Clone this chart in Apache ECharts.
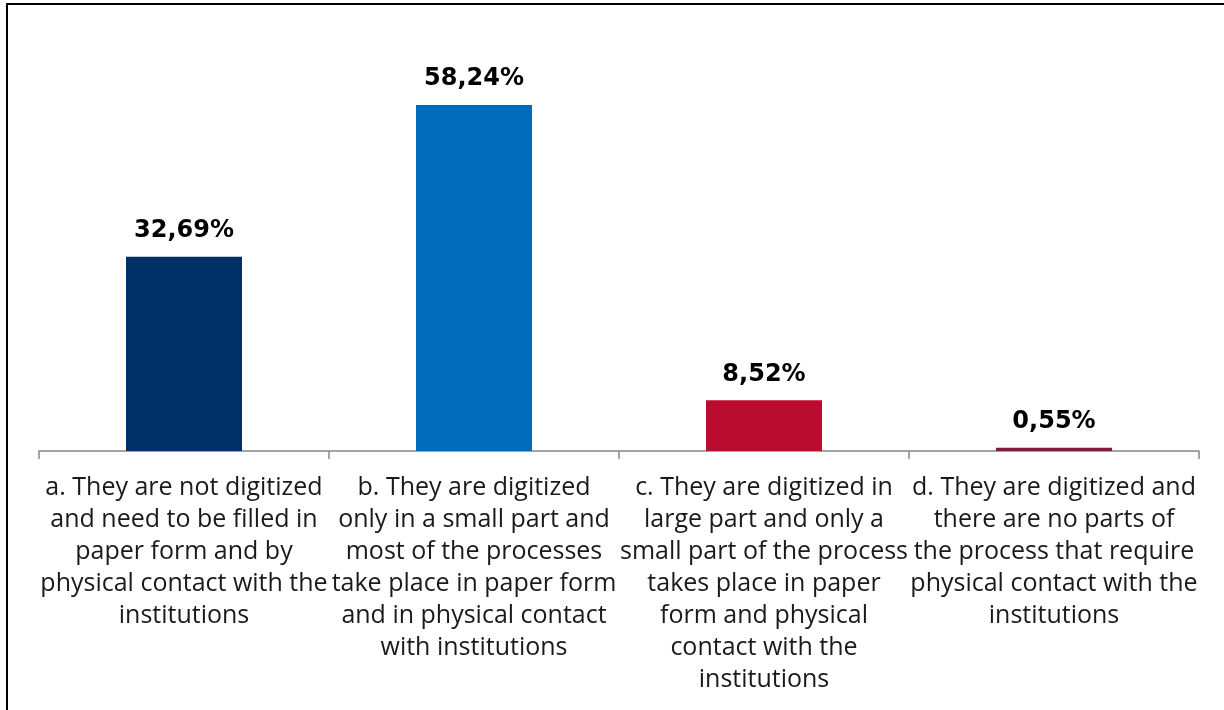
<!DOCTYPE html>
<html>
<head>
<meta charset="utf-8">
<script src="https://cdn.jsdelivr.net/npm/echarts@6/dist/echarts.min.js"></script>
<style>
html,body{margin:0;padding:0;background:#fff;}
#frame{position:absolute;left:6px;top:3px;width:1218px;height:707px;border-top:2px solid #000;border-left:2px solid #000;}
#chart{position:absolute;left:0;top:0;width:1224px;height:710px;}
</style>
</head>
<body>
<div id="frame"></div>
<div id="chart"></div>
<script>
const categories = [
  "a. They are not digitized\nand need to be filled in\npaper form and by\nphysical contact with the\ninstitutions",
  "b. They are digitized\nonly in a small part and\nmost of the processes\ntake place in paper form\nand in physical contact\nwith institutions",
  "c. They are digitized in\nlarge part and only a\nsmall part of the process\ntakes place in paper\nform and physical\ncontact with the\ninstitutions",
  "d. They are digitized and\nthere are no parts of\nthe process that require\nphysical contact with the\ninstitutions"
];
const values = [32.69, 58.24, 8.52, 0.55];
const barColors = ["#003068", "#006BBB", "#BA0C2F", "#7A1E3E"];

const chart = echarts.init(document.getElementById('chart'), null, {renderer: 'canvas'});
chart.setOption({
  animation: false,
  grid: {left: 39, right: 25, top: 35, bottom: 259, containLabel: false},
  xAxis: {
    type: 'category',
    data: categories,
    axisLine: {lineStyle: {color: '#888', width: 1.5}},
    axisTick: {show: true, length: 8, alignWithLabel: false, lineStyle: {color: '#888', width: 1.5}},
    axisLabel: {
      interval: 0, fontFamily: 'Open Sans', fontSize: 25, color: '#1a1a1a',
      lineHeight: 32, margin: 21, align: 'center'
    }
  },
  yAxis: {type: 'value', min: 0, max: 70, show: false, splitLine: {show: false}},
  series: [{
    type: 'bar',
    barWidth: 116,
    data: values.map((v, i) => ({value: v, itemStyle: {color: barColors[i]}})),
    label: {
      show: true, position: 'top', distance: 14,
      fontFamily: 'DejaVu Sans', fontWeight: 'bold', fontSize: 24, color: '#000',
      formatter: p => p.value.toFixed(2).replace('.', ',') + '%'
    }
  }]
});
</script>
</body>
</html>
